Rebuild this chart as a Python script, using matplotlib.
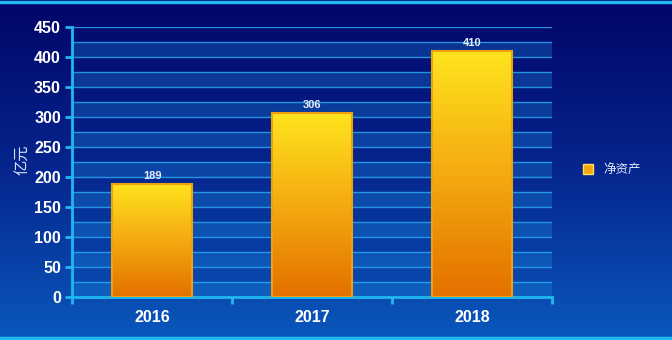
import numpy as np
import matplotlib.pyplot as plt
from matplotlib.colors import LinearSegmentedColormap
from matplotlib.patches import Rectangle

plt.rcParams['font.family'] = ['Noto Sans CJK SC', 'DejaVu Sans']

years = ['2016', '2017', '2018']
net_assets = [189, 306, 410]
series_name = '净资产'
y_label = '亿元'
y_ticks = [0, 50, 100, 150, 200, 250, 300, 350, 400, 450]

fig = plt.figure(figsize=(6.72, 3.4), dpi=100)

# figure background: navy at top fading to brighter blue at the bottom
bg = fig.add_axes([0, 0, 1, 1], zorder=-10)
grad = np.linspace(0, 1, 256).reshape(-1, 1)
bg_cmap = LinearSegmentedColormap.from_list('bg', ['#020468', '#05268e', '#0a58bc'])
bg.imshow(grad, aspect='auto', cmap=bg_cmap, extent=[0, 1, 0, 1], origin='upper')
bg.axhline(0.994, color='#1fb8f0', lw=2.5)
bg.axhline(0.006, color='#1fb8f0', lw=2.5)
bg.set_xlim(0, 1)
bg.set_ylim(0, 1)
bg.axis('off')

ax = fig.add_axes([72 / 672, 43 / 340, 480 / 672, 270 / 340])
ax.patch.set_alpha(0)
x = np.arange(len(years))

# alternating bands and grid lines every 25
for lo in range(0, 450, 50):
    ax.axhspan(lo, lo + 25, color='#1e8ee0', alpha=0.3, lw=0, zorder=0)
for g in range(25, 451, 25):
    ax.axhline(g, color='#2aa6ee', lw=1.0, alpha=0.85, zorder=1)

# bars with a yellow-to-orange vertical gradient
bar_cmap = LinearSegmentedColormap.from_list('bar', ['#e47000', '#f4aa10', '#ffe41e'])
width = 0.5
for xi, v in zip(x, net_assets):
    ax.imshow(grad[::-1], aspect='auto', cmap=bar_cmap,
              extent=[xi - width / 2, xi + width / 2, 0, v], origin='upper', zorder=2)
    ax.add_patch(Rectangle((xi - width / 2, 0), width, v, fill=False,
                           ec='#eea010', lw=1.5, zorder=3))
    ax.text(xi, v + 5, str(v), ha='center', va='bottom', color='#e8eef8',
            fontsize=8, fontweight='bold', family='Liberation Sans', zorder=4)
ax.set_xlim(-0.5, len(years) - 0.5)
ax.set_ylim(0, 450)

for side in ['top', 'right']:
    ax.spines[side].set_visible(False)
for side in ['left', 'bottom']:
    ax.spines[side].set_color('#1fb8f0')
    ax.spines[side].set_linewidth(2)

ax.set_yticks(y_ticks)
ax.set_yticklabels([str(t) for t in y_ticks])
ax.set_xticks(x)
ax.set_xticklabels(years)
ax.set_xticks(np.arange(-0.5, len(years), 1), minor=True)
ax.tick_params(axis='y', colors='#1fb8f0', length=5, width=2, labelcolor='white',
               labelsize=11.5, pad=3)
ax.tick_params(axis='x', which='major', length=0, labelcolor='white', labelsize=11.5, pad=9)
ax.tick_params(axis='x', which='minor', colors='#1fb8f0', length=5, width=2)
for lbl in ax.get_xticklabels() + ax.get_yticklabels():
    lbl.set_fontweight('bold')
    lbl.set_family('Liberation Sans')

fig.text(22 / 672, 1 - 160 / 340, y_label, rotation=90, ha='center', va='center',
         color='#d8e4f4', fontsize=11)

# legend
fig.patches.append(Rectangle((583 / 672, 1 - 174 / 340), 10 / 672, 10 / 340,
                             transform=fig.transFigure, fc='#f2a70c', ec='#ffe060', lw=1))
fig.text(603 / 672, 1 - 169 / 340, series_name, ha='left', va='center',
         color='#dfe8f5', fontsize=9)

fig.savefig('out.png', dpi=100)
